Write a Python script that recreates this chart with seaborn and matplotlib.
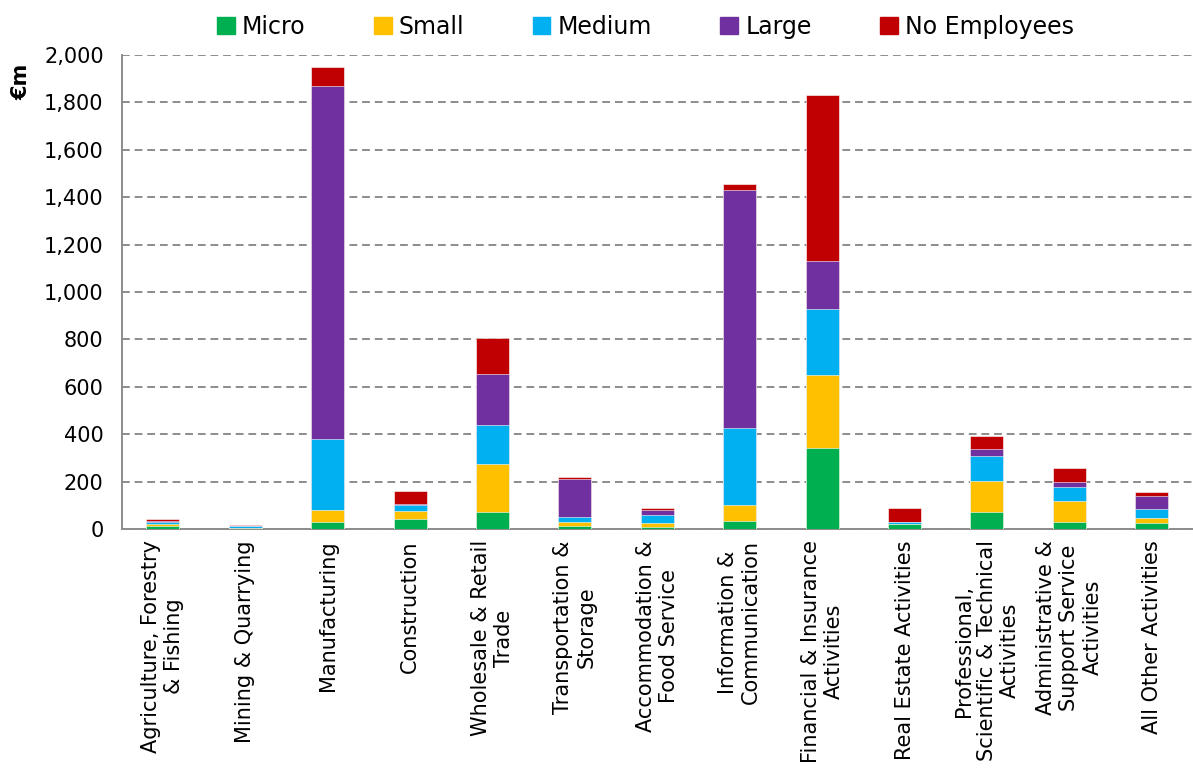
import numpy as np
import pandas as pd
import matplotlib
matplotlib.use('Agg')
import matplotlib.pyplot as plt
import seaborn as sns
from matplotlib.ticker import FuncFormatter

# Dados (€m)
sectores = ['Agriculture, Forestry\n& Fishing', 'Mining & Quarrying', 'Manufacturing',
            'Construction', 'Wholesale & Retail\nTrade', 'Transportation &\nStorage',
            'Accommodation &\nFood Service', 'Information &\nCommunication',
            'Financial & Insurance\nActivities', 'Real Estate Activities',
            'Professional,\nScientific & Technical\nActivities',
            'Administrative &\nSupport Service\nActivities', 'All Other Activities']

micro = [14, 2, 31, 41, 72, 11, 7, 32, 342, 21, 71, 30, 25]
small = [8, 1, 51, 35, 204, 17, 20, 68, 306, 2, 131, 86, 23]
medium = [7, 9, 297, 24, 161, 21, 31, 327, 280, 5, 105, 59, 37]
large = [6, 1.5, 1491, 7, 218, 160, 20, 1004, 202, 1, 32, 23, 56]
no_employees = [6, 2, 78, 53, 150, 9, 10, 24, 700, 58, 54, 58, 13]

series = ['Micro', 'Small', 'Medium', 'Large', 'No Employees']
cores = ['#00B050', '#FFC000', '#00B0F0', '#7030A0', '#C00000']

dados = pd.DataFrame({'Sector': sectores, 'Micro': micro, 'Small': small,
                      'Medium': medium, 'Large': large, 'No Employees': no_employees})
acumulado = dados[series].cumsum(axis=1)

sns.set_style('white')
plt.rcParams['font.family'] = ['DejaVu Sans']
plt.rcParams['text.color'] = 'black'
plt.rcParams['xtick.color'] = 'black'
plt.rcParams['ytick.color'] = 'black'
plt.rcParams['axes.labelcolor'] = 'black'

fig = plt.figure(figsize=(11.93, 7.72), dpi=100)
ax = fig.add_axes([0.102, 0.3148, 0.898, 0.614])

# Barras empilhadas: desenhar do total para baixo
for nome, cor in reversed(list(zip(series, cores))):
    sns.barplot(x=dados['Sector'], y=acumulado[nome], color=cor, width=0.4,
                saturation=1, edgecolor='white', linewidth=0.4, ax=ax, zorder=3)

ax.set_ylim(0, 2000)
ax.set_xlim(-0.5, 12.5 - 8 / 83)
ax.set_yticks(np.arange(0, 2001, 200))
ax.yaxis.set_major_formatter(FuncFormatter(lambda v, p: f'{int(v):,}'))
ax.grid(axis='y', color='#8c8c8c', linestyle=(0, (4, 2.5)), linewidth=1.4, zorder=0)
ax.grid(axis='x', visible=False)

for lado in ['top', 'right']:
    ax.spines[lado].set_visible(False)
for lado in ['left', 'bottom']:
    ax.spines[lado].set_color('#8c8c8c')
    ax.spines[lado].set_linewidth(1.4)

ax.set_xticks(range(len(sectores)))
ax.set_xticklabels(sectores, rotation=90, ha='center', va='top', multialignment='center',
                   fontsize=15)
ax.set_xticks(np.arange(-0.5, 13, 1), minor=True)
ax.tick_params(axis='x', which='major', length=0, pad=8)
ax.tick_params(axis='x', which='minor', length=7, width=1.4, color='#8c8c8c')
ax.tick_params(axis='y', length=7, width=1.4, color='#8c8c8c', labelcolor='black',
               labelsize=15, pad=6)

ax.set_xlabel('')
ax.set_ylabel('€m', fontsize=15, fontweight='bold')
ax.yaxis.set_label_coords(-0.084, 0.943)

handles = [plt.Rectangle((0, 0), 1, 1, color=c) for c in cores]
fig.legend(handles, series, loc='center', bbox_to_anchor=(0.541, 0.965), ncol=5,
           frameon=False, fontsize=17, handlelength=0.75, handleheight=0.75,
           handletextpad=0.3, columnspacing=2.9)

fig.savefig('out.png', dpi=100)
